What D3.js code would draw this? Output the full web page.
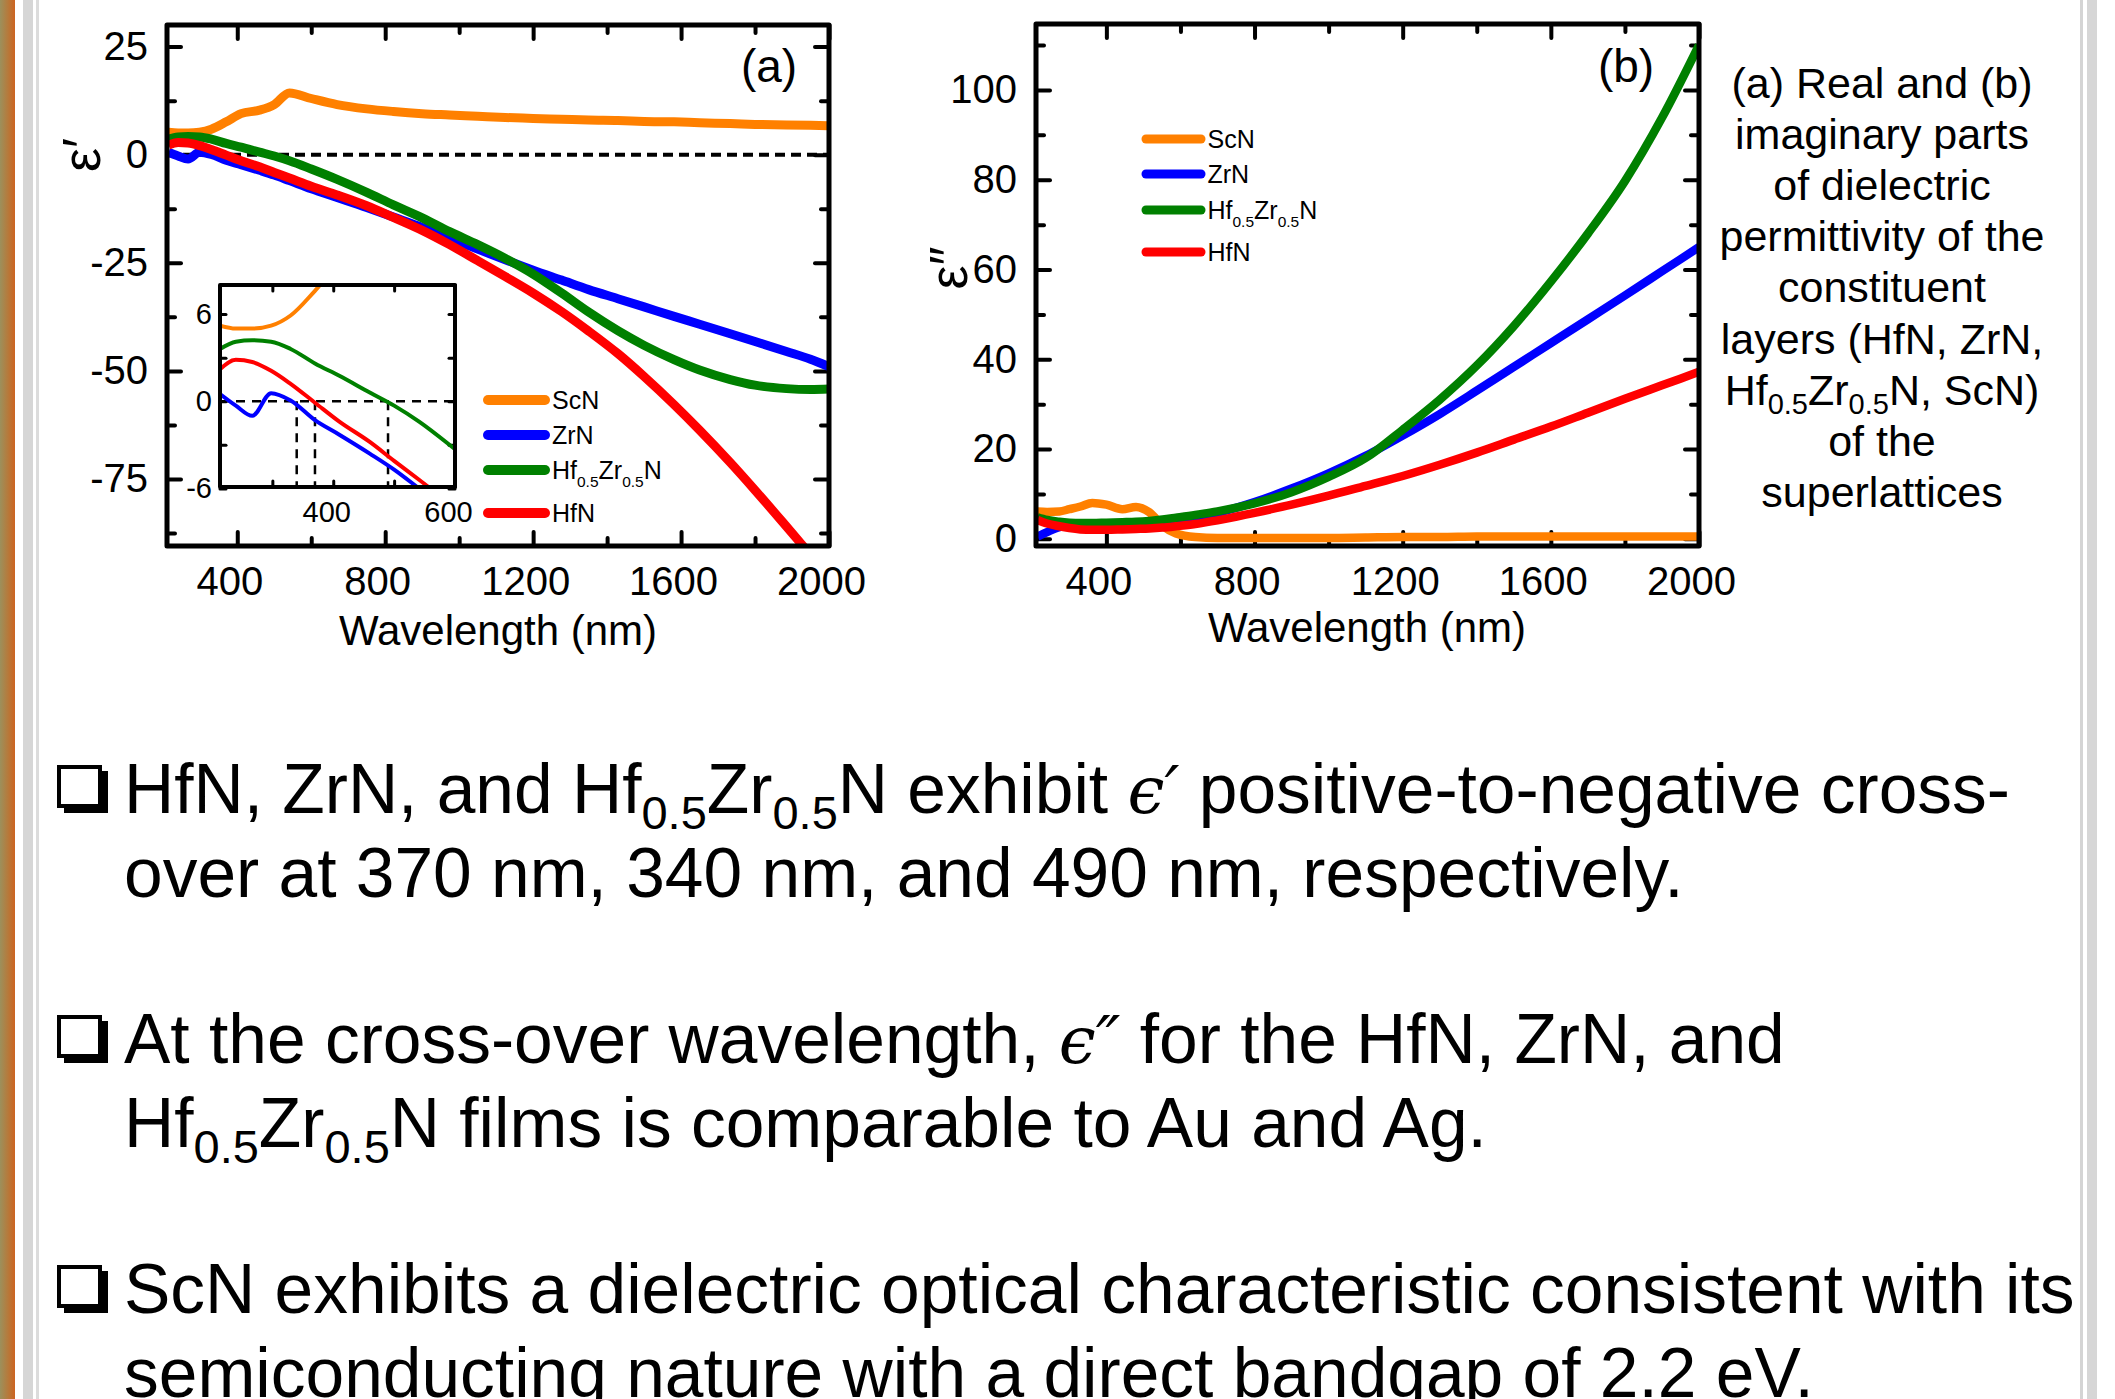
<!DOCTYPE html>
<html>
<head>
<meta charset="utf-8">
<script src="https://cdn.jsdelivr.net/npm/d3@7"></script>
<style>
  body { margin: 0; background: #fff; }
  svg text { font-family: "Liberation Sans", Arial, sans-serif; fill: #000; }
  .tick line { stroke: #000; stroke-linecap: round; }
  .domain { display: none; }
</style>
</head>
<body>
<svg id="chart" width="2115" height="1399"></svg>
<script>
  // ---- data ----
  var series = ["ScN", "ZrN", "HfZrN", "HfN"];
  var colors = ["#ff8000", "#0000ff", "#008000", "#ff0000"];

  // (a) real part, eps'
  var wlA = [214, 240, 267, 298, 330, 370, 410, 460, 500, 541, 600, 670, 750, 822, 900, 974, 1050, 1125, 1200, 1277, 1350, 1429, 1500, 1581, 1650, 1733, 1800, 1885, 1950, 2000];
  var realScN = [5.2, 5.0, 5.0, 5.2, 5.9, 7.6, 9.5, 10.3, 11.6, 14.3, 13.0, 11.6, 10.6, 10.0, 9.5, 9.2, 8.9, 8.6, 8.4, 8.2, 8.0, 7.9, 7.7, 7.6, 7.4, 7.2, 7.0, 6.9, 6.8, 6.7];
  var realZrN = [0.5, -0.3, -1.0, 0.55, 0.05, -1.3, -2.3, -3.6, -4.7, -6.0, -7.9, -9.9, -12.2, -14.4, -16.8, -19.3, -21.8, -24.3, -26.7, -29.0, -31.2, -33.3, -35.2, -37.4, -39.2, -41.4, -43.2, -45.5, -47.3, -49.0];
  var realHfZrN = [3.6, 4.1, 4.2, 4.1, 3.6, 2.6, 1.75, 0.6, -0.3, -1.4, -3.3, -5.7, -8.7, -11.6, -14.6, -17.8, -20.8, -24.0, -27.6, -32.0, -36.4, -40.7, -44.1, -47.4, -49.8, -52.0, -53.3, -54.1, -54.3, -54.2];
  var realHfN = [2.2, 2.85, 2.7, 2.1, 1.2, -0.1, -1.4, -2.8, -4.1, -5.4, -7.3, -9.3, -11.8, -14.5, -17.5, -20.8, -24.5, -28.2, -32.0, -36.3, -40.8, -46.0, -51.3, -57.8, -63.7, -71.2, -77.6, -86.0, -92.5, -97.5];

  // (b) imaginary part, eps''
  var wlB = [214, 240, 273, 300, 330, 362, 400, 443, 480, 516, 552, 588, 640, 700, 800, 900, 1000, 1100, 1200, 1300, 1400, 1500, 1600, 1700, 1800, 1900, 2000];
  var imagScN = [6.1, 6.0, 6.1, 6.6, 7.2, 8.0, 7.6, 6.6, 7.1, 5.9, 2.9, 1.2, 0.4, 0.2, 0.2, 0.2, 0.2, 0.3, 0.4, 0.4, 0.5, 0.5, 0.5, 0.5, 0.5, 0.5, 0.5];
  var imagZrN = [0.5, 1.5, 2.6, 3.0, 3.0, 2.9, 2.9, 3.0, 3.1, 3.3, 3.6, 4.0, 4.8, 5.8, 8.2, 11.2, 14.6, 18.5, 23.0, 27.8, 33.0, 38.3, 43.6, 48.9, 54.2, 59.6, 65.0];
  var imagHfZrN = [4.8, 4.2, 3.8, 3.6, 3.5, 3.5, 3.6, 3.7, 3.8, 4.0, 4.3, 4.7, 5.3, 6.1, 7.9, 10.4, 13.8, 18.0, 24.3, 31.0, 38.6, 47.4, 57.3, 68.0, 79.7, 93.8, 110.0];
  var imagHfN = [4.2, 3.4, 2.8, 2.4, 2.1, 2.0, 2.0, 2.1, 2.2, 2.3, 2.5, 2.8, 3.3, 4.1, 5.8, 7.6, 9.6, 11.8, 14.0, 16.5, 19.2, 22.1, 25.0, 28.1, 31.2, 34.2, 37.2];

  // axis ticks
  var xMajor = [400, 800, 1200, 1600, 2000];
  var xMinor = [600, 1000, 1400, 1800];
  var yMajorA = [25, 0, -25, -50, -75];
  var yMinorA = [12.5, -12.5, -37.5, -62.5, -87.5];
  var yMajorB = [0, 20, 40, 60, 80, 100];
  var yMinorB = [10, 30, 50, 70, 90, 110];
  var insetXMajor = [400, 600];
  var insetXMinor = [300, 500];
  var insetYMajor = [6, 0, -6];
  var insetYMinor = [3, -3];
  var crossOver = [340, 370, 490];

  var caption = ["(a) Real and (b)", "imaginary parts", "of dielectric", "permittivity of the",
    "constituent", "layers (HfN, ZrN,", "@HfZr, ScN)", "of the", "superlattices"];

  var svg = d3.select("#chart");
  var defs = svg.append("defs");

  // ---- slide frame decorations ----
  var grad = defs.append("linearGradient").attr("id", "edge");
  grad.append("stop").attr("offset", "0%").attr("stop-color", "#9c905c");
  grad.append("stop").attr("offset", "55%").attr("stop-color", "#b7793a");
  grad.append("stop").attr("offset", "100%").attr("stop-color", "#cd6320");
  svg.append("rect").attr("x", 0).attr("y", 0).attr("width", 15).attr("height", 1399).attr("fill", "url(#edge)");
  svg.append("rect").attr("x", 23).attr("y", 0).attr("width", 10).attr("height", 1399).attr("fill", "#d6d6d6");
  svg.append("rect").attr("x", 36).attr("y", 0).attr("width", 3).attr("height", 1399).attr("fill", "#dcdcdc");
  svg.append("rect").attr("x", 2080).attr("y", 0).attr("width", 3).attr("height", 1399).attr("fill", "#d4d4d4");
  svg.append("rect").attr("x", 2087).attr("y", 0).attr("width", 10).attr("height", 1399).attr("fill", "#d6d6d6");

  function rows(wl, vals) {
    return wl.map(function(w, i) { return [w, vals[i]]; });
  }

  // plain numbers with a hyphen minus, no thousands comma
  var plain = function(d) { return String(d); };

  // draw one framed panel; returns scales + group
  function panel(opt) {
    var x = d3.scaleLinear().domain(opt.xDomain).range([opt.left, opt.right]);
    var y = d3.scaleLinear().domain(opt.yDomain).range([opt.bottom, opt.top]);
    var g = svg.append("g");
    var w = opt.right - opt.left, h = opt.bottom - opt.top;

    defs.append("clipPath").attr("id", opt.id)
      .append("rect").attr("x", opt.left).attr("y", opt.top).attr("width", w).attr("height", h);

    g.append("rect").attr("x", opt.left).attr("y", opt.top).attr("width", w).attr("height", h)
      .attr("fill", "#fff");

    var fs = opt.fontSize;
    function axisSet(gen, scale, vals, size, label, tx, ty, pad) {
      var a = gen(scale).tickValues(vals).tickSize(-size).tickPadding(pad)
        .tickFormat(label ? plain : "");
      var ag = g.append("g").attr("transform", "translate(" + tx + "," + ty + ")").call(a);
      ag.selectAll("line").attr("stroke-width", opt.tickWidth);
      ag.selectAll("text").style("font-size", fs + "px");
      return ag;
    }
    var bx = axisSet(d3.axisBottom, x, opt.xMajor, opt.major, true, 0, opt.bottom, opt.xPad);
    bx.selectAll("text").attr("dx", opt.xShift);
    axisSet(d3.axisBottom, x, opt.xMinor, opt.minor, false, 0, opt.bottom, 0);
    axisSet(d3.axisTop, x, opt.xMajor, opt.major, false, 0, opt.top, 0);
    axisSet(d3.axisTop, x, opt.xMinor, opt.minor, false, 0, opt.top, 0);
    axisSet(d3.axisLeft, y, opt.yMajor, opt.major, true, opt.left, 0, opt.yPad);
    axisSet(d3.axisLeft, y, opt.yMinor, opt.minor, false, opt.left, 0, 0);
    axisSet(d3.axisRight, y, opt.yMajor, opt.major, false, opt.right, 0, 0);
    axisSet(d3.axisRight, y, opt.yMinor, opt.minor, false, opt.right, 0, 0);

    var plot = g.append("g").attr("clip-path", "url(#" + opt.id + ")");
    return { x: x, y: y, g: g, plot: plot, frame: function() {
      g.append("rect").attr("x", opt.left).attr("y", opt.top).attr("width", w).attr("height", h)
        .attr("fill", "none").attr("stroke", "#000").attr("stroke-width", opt.frameWidth)
        .attr("stroke-linejoin", "round");
    } };
  }

  function drawLines(p, wl, data, width) {
    var line = d3.line().curve(d3.curveMonotoneX)
      .x(function(d) { return p.x(d[0]); })
      .y(function(d) { return p.y(d[1]); });
    data.forEach(function(vals, i) {
      p.plot.append("path").datum(rows(wl, vals))
        .attr("d", line).attr("fill", "none")
        .attr("stroke", colors[i]).attr("stroke-width", width)
        .attr("stroke-linejoin", "round");
    });
  }

  function legend(x0, x1, ys, fontSize, lw) {
    var lg = svg.append("g");
    series.forEach(function(s, i) {
      lg.append("line").attr("x1", x0).attr("x2", x1).attr("y1", ys[i]).attr("y2", ys[i])
        .attr("stroke", colors[i]).attr("stroke-width", lw).attr("stroke-linecap", "round");
      var t = lg.append("text").attr("x", x1 + lw / 2 + 2).attr("y", ys[i]).attr("dy", "0.36em")
        .style("font-size", fontSize + "px");
      if (s === "HfZrN") {
        t.append("tspan").text("Hf");
        t.append("tspan").text("0.5").style("font-size", (fontSize * 0.62) + "px").attr("dy", 8);
        t.append("tspan").text("Zr").attr("dy", -8);
        t.append("tspan").text("0.5").style("font-size", (fontSize * 0.62) + "px").attr("dy", 8);
        t.append("tspan").text("N").attr("dy", -8);
      } else {
        t.text(s);
      }
    });
  }

  // ---- panel (a) ----
  var pa = panel({
    id: "clipA", left: 167, right: 829, top: 25, bottom: 546,
    xDomain: [210, 2000], yDomain: [-90.5, 30],
    xMajor: xMajor, xMinor: xMinor, yMajor: yMajorA, yMinor: yMinorA,
    major: 14, minor: 8, tickWidth: 4, frameWidth: 5, fontSize: 40,
    xPad: 21, yPad: 19, xShift: -8
  });
  pa.plot.append("line").attr("x1", pa.x(210)).attr("x2", pa.x(2000))
    .attr("y1", pa.y(0)).attr("y2", pa.y(0))
    .attr("stroke", "#000").attr("stroke-width", 4).attr("stroke-dasharray", "10,6");
  drawLines(pa, wlA, [realScN, realZrN, realHfZrN, realHfN], 9);
  pa.frame();

  // ---- inset of (a) ----
  var pi = panel({
    id: "clipI", left: 220, right: 455, top: 285, bottom: 487,
    xDomain: [214, 600], yDomain: [-5.9, 8.0],
    xMajor: insetXMajor, xMinor: insetXMinor, yMajor: insetYMajor, yMinor: insetYMinor,
    major: 6, minor: 6, tickWidth: 3, frameWidth: 4, fontSize: 29,
    xPad: 14, yPad: 8, xShift: -7
  });
  pi.plot.append("line").attr("x1", pi.x(214)).attr("x2", pi.x(600))
    .attr("y1", pi.y(0)).attr("y2", pi.y(0))
    .attr("stroke", "#000").attr("stroke-width", 2.5).attr("stroke-dasharray", "9,7");
  pi.plot.selectAll(".cross").data(crossOver).enter().append("line")
    .attr("x1", function(d) { return pi.x(d); }).attr("x2", function(d) { return pi.x(d); })
    .attr("y1", pi.y(0)).attr("y2", pi.y(-5.9))
    .attr("stroke", "#000").attr("stroke-width", 2.5).attr("stroke-dasharray", "9,7");
  drawLines(pi, wlA, [realScN, realZrN, realHfZrN, realHfN], 4);
  pi.frame();

  legend(488, 545, [400, 435, 470, 513], 25, 10);

  // ---- panel (b) ----
  var pb = panel({
    id: "clipB", left: 1036, right: 1699, top: 24, bottom: 546,
    xDomain: [210, 2000], yDomain: [-1.6, 114.7],
    xMajor: xMajor, xMinor: xMinor, yMajor: yMajorB, yMinor: yMinorB,
    major: 14, minor: 8, tickWidth: 4, frameWidth: 5, fontSize: 40,
    xPad: 21, yPad: 19, xShift: -8
  });
  drawLines(pb, wlB, [imagScN, imagZrN, imagHfZrN, imagHfN], 8.5);
  pb.frame();

  legend(1146, 1201, [139, 174, 210, 252], 25, 9);

  // panel letters and axis titles
  svg.append("text").attr("x", 769).attr("y", 82).attr("text-anchor", "middle")
    .style("font-size", "46px").text("(a)");
  svg.append("text").attr("x", 1626).attr("y", 82).attr("text-anchor", "middle")
    .style("font-size", "46px").text("(b)");
  svg.append("text").attr("x", 498).attr("y", 645).attr("text-anchor", "middle")
    .style("font-size", "42px").text("Wavelength (nm)");
  svg.append("text").attr("x", 1367).attr("y", 642).attr("text-anchor", "middle")
    .style("font-size", "42px").text("Wavelength (nm)");
  svg.append("text").attr("transform", "translate(100,155) rotate(-90)").attr("text-anchor", "middle")
    .style("font-size", "54px").text("\u03b5\u2032");
  svg.append("text").attr("transform", "translate(967,268) rotate(-90)").attr("text-anchor", "middle")
    .style("font-size", "54px").text("\u03b5\u2033");

  // ---- caption at right ----
  var cap = svg.append("g");
  caption.forEach(function(c, i) {
    var t = cap.append("text").attr("x", 1882).attr("y", 98 + i * 51.1)
      .attr("text-anchor", "middle").style("font-size", "43px");
    if (c.indexOf("@HfZr") === 0) {
      t.append("tspan").text("Hf");
      t.append("tspan").text("0.5").style("font-size", "29px").attr("dy", 9);
      t.append("tspan").text("Zr").attr("dy", -9);
      t.append("tspan").text("0.5").style("font-size", "29px").attr("dy", 9);
      t.append("tspan").text("N" + c.slice(5)).attr("dy", -9);
    } else {
      t.text(c);
    }
  });

  // ---- bullet text ----
  var bullets = [
    { y: 813, lines: [
      [["HfN, ZrN, and Hf"], ["0.5", "sub"], ["Zr"], ["0.5", "sub"], ["N exhibit "], ["\u03f5\u2032", "eps"], [" positive-to-negative cross-"]],
      [["over at 370 nm, 340 nm, and 490 nm, respectively."]]
    ] },
    { y: 1063, lines: [
      [["At the cross-over wavelength, "], ["\u03f5\u2033", "eps"], [" for the HfN, ZrN, and"]],
      [["Hf"], ["0.5", "sub"], ["Zr"], ["0.5", "sub"], ["N films is comparable to Au and Ag."]]
    ] },
    { y: 1313, lines: [
      [["ScN exhibits a dielectric optical characteristic consistent with its"]],
      [["semiconducting nature with a direct bandgap of 2.2 eV."]]
    ] }
  ];
  var bl = svg.append("g");
  bullets.forEach(function(b) {
    bl.append("rect").attr("x", 64).attr("y", b.y - 42).attr("width", 44).attr("height", 42).attr("fill", "#000");
    bl.append("rect").attr("x", 59).attr("y", b.y - 46).attr("width", 41).attr("height", 39)
      .attr("fill", "#fff").attr("stroke", "#000").attr("stroke-width", 4);
    b.lines.forEach(function(parts, li) {
      var t = bl.append("text").attr("x", 124).attr("y", b.y + li * 84).style("font-size", "69.5px");
      var shift = 0;
      parts.forEach(function(p) {
        var s = t.append("tspan").text(p[0]);
        var want = 0;
        if (p[1] === "sub") { s.style("font-size", "47px"); want = 16; }
        if (p[1] === "eps") { s.style("font-family", "'DejaVu Serif', serif").style("font-style", "italic").style("font-size", "66px"); }
        if (want !== shift) { s.attr("dy", want - shift); shift = want; }
      });
    });
  });
</script>
</body>
</html>
